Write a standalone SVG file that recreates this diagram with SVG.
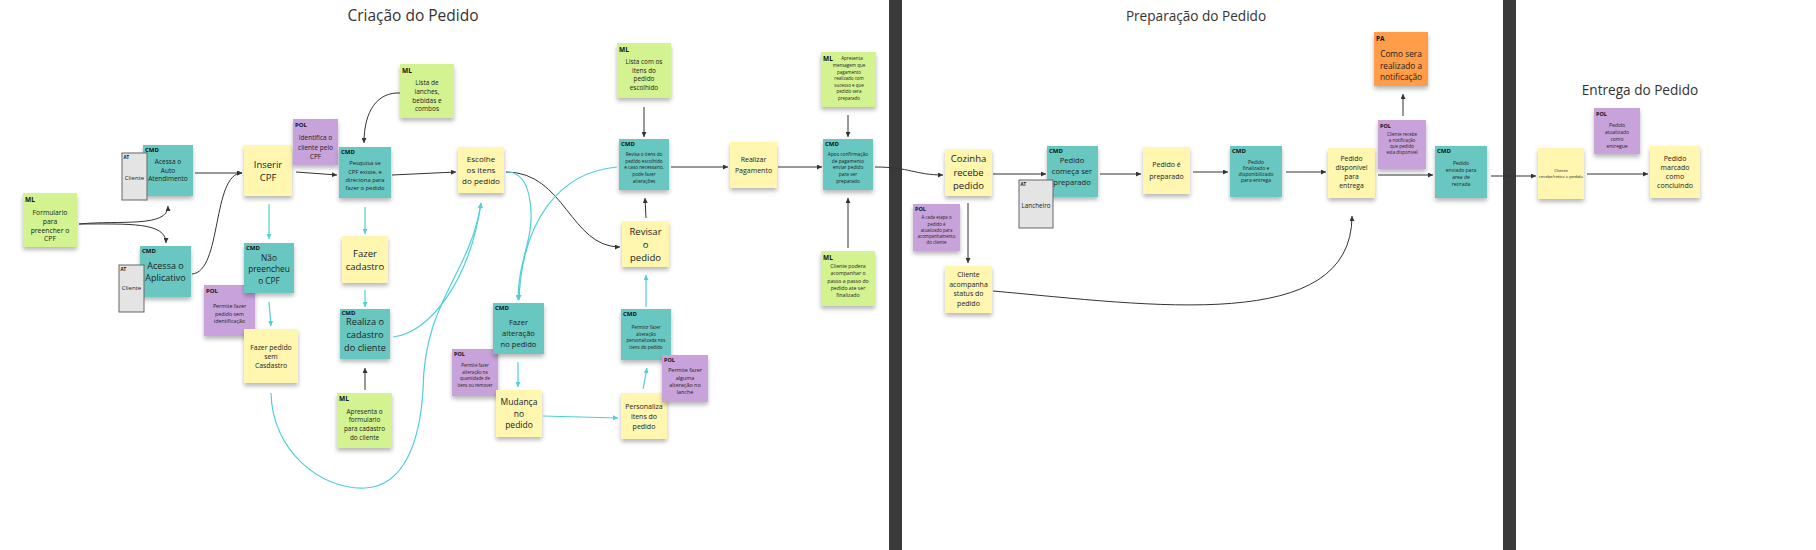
<svg xmlns="http://www.w3.org/2000/svg" width="1816" height="550" viewBox="0 0 1816 550">
<defs>
<filter id="sh" x="-20%" y="-20%" width="140%" height="160%"><feDropShadow dx="0" dy="3" stdDeviation="2" flood-color="#000" flood-opacity="0.28"/></filter>
<marker id="ak" markerUnits="userSpaceOnUse" markerWidth="5" markerHeight="5" refX="5" refY="2.5" orient="auto"><path d="M0,0 L5,2.5 L0,5 z" fill="#333"/></marker>
<marker id="ac" markerUnits="userSpaceOnUse" markerWidth="5" markerHeight="5" refX="5" refY="2.5" orient="auto"><path d="M0,0 L5,2.5 L0,5 z" fill="#4fcfd9"/></marker>
<style>
text{font-family:"Open Sans","Noto Sans","Liberation Sans",sans-serif;fill:#222;text-anchor:middle;dominant-baseline:central}
.lb{font-weight:bold;text-anchor:start;font-size:6px;fill:#111}
.y{fill:#fff6b0;filter:url(#sh)}
.c{fill:#67c7c0;filter:url(#sh)}
.g{fill:#d3f290;filter:url(#sh)}
.p{fill:#c8a2da;filter:url(#sh)}
.o{fill:#ff9d48;filter:url(#sh)}
.a{fill:#e4e4e4;stroke:#666;stroke-width:1}
.k{fill:none;stroke:#333;stroke-width:1;marker-end:url(#ak)}
.q{fill:none;stroke:#4fcfd9;stroke-width:1.2;marker-end:url(#ac)}
.ttl{font-size:15.5px;fill:#333}
.ttl2{font-size:13.6px;fill:#333}
</style>
</defs>
<rect x="0" y="0" width="1816" height="550" fill="#fff"/>
<rect x="889" y="0" width="13" height="550" fill="#3a3a3a"/>
<rect x="1503" y="0" width="13" height="550" fill="#3a3a3a"/>
<text class="ttl" x="413" y="15">Criação do Pedido</text>
<text class="ttl2" x="1196" y="15">Preparação do Pedido</text>
<text class="ttl2" x="1640" y="89">Entrega do Pedido</text>

<g id="n-ml-form"><rect class="g" x="23" y="193" width="54" height="54"/><text class="lb" x="25" y="199" style="font-size:6.5px">ML</text><text style="font-size:6.8px"><tspan x="50" y="212">Formulario</tspan><tspan x="50" y="221">para</tspan><tspan x="50" y="229.5">preencher o</tspan><tspan x="50" y="238">CPF</tspan></text></g>
<g id="n-cmd-auto"><rect class="c" x="143" y="145" width="50" height="51"/><text class="lb" x="145" y="150">CMD</text><text style="font-size:6.5px"><tspan x="168" y="161">Acessa o</tspan><tspan x="168" y="169.5">Auto</tspan><tspan x="168" y="178">Atendimento</tspan></text></g>
<g id="n-at-cli1"><rect class="a" x="122" y="153" width="25" height="47"/><text class="lb" x="123.5" y="157" style="font-size:4.5px">AT</text><text x="134.5" y="178" style="font-size:6px">Cliente</text></g>
<g id="n-cmd-app"><rect class="c" x="140" y="246" width="51" height="51"/><text class="lb" x="142" y="251">CMD</text><text style="font-size:9px"><tspan x="165.5" y="265">Acessa o</tspan><tspan x="165.5" y="277">Aplicativo</tspan></text></g>
<g id="n-at-cli2"><rect class="a" x="119" y="265" width="25" height="47"/><text class="lb" x="120.5" y="269" style="font-size:4.5px">AT</text><text x="131.5" y="288" style="font-size:6px">Cliente</text></g>
<g id="n-pol-semid"><rect class="p" x="204" y="285" width="51" height="51"/><text class="lb" x="206" y="291">POL</text><text style="font-size:5.3px"><tspan x="229.5" y="306">Permite  fazer</tspan><tspan x="229.5" y="313.5">pedido sem</tspan><tspan x="229.5" y="321">identificação</tspan></text></g>
<g id="n-inserir"><rect class="y" x="244" y="145" width="48" height="51"/><text style="font-size:9.5px"><tspan x="268" y="164">Inserir</tspan><tspan x="268" y="177">CPF</tspan></text></g>
<g id="n-pol-ident"><rect class="p" x="293" y="119" width="45" height="46"/><text class="lb" x="295" y="125">POL</text><text style="font-size:6.5px"><tspan x="315.5" y="137">Identifica o</tspan><tspan x="315.5" y="146.5">cliente pelo</tspan><tspan x="315.5" y="156">CPF</tspan></text></g>
<g id="n-cmd-pesq"><rect class="c" x="339" y="147" width="52" height="51"/><text class="lb" x="341" y="152">CMD</text><text style="font-size:5.8px"><tspan x="365" y="163.3">Pesquisa se</tspan><tspan x="365" y="171.5">CPF existe, e</tspan><tspan x="365" y="179.7">direciona para</tspan><tspan x="365" y="187.9">fazer o pedido</tspan></text></g>
<g id="n-ml-lista"><rect class="g" x="400" y="64" width="54" height="54"/><text class="lb" x="402" y="70" style="font-size:6.5px">ML</text><text style="font-size:6.5px"><tspan x="427" y="82.3">Lista de</tspan><tspan x="427" y="91">lanches,</tspan><tspan x="427" y="99.7">bebidas e</tspan><tspan x="427" y="108">combos</tspan></text></g>
<g id="n-escolhe"><rect class="y" x="458" y="147" width="46" height="46"/><text style="font-size:8px"><tspan x="481" y="158.3">Escolhe</tspan><tspan x="481" y="169.2">os itens</tspan><tspan x="481" y="180">do pedido</tspan></text></g>
<g id="n-cmd-nao"><rect class="c" x="244" y="243" width="50" height="50"/><text class="lb" x="246" y="248">CMD</text><text style="font-size:8.3px"><tspan x="269" y="256.7">Não</tspan><tspan x="269" y="268.3">preencheu</tspan><tspan x="269" y="279.5">o CPF</tspan></text></g>
<g id="n-sem-cad"><rect class="y" x="244" y="329" width="54" height="54"/><text style="font-size:6.9px"><tspan x="271" y="346.7">Fazer pedido</tspan><tspan x="271" y="355.8">sem</tspan><tspan x="271" y="365">Casdastro</tspan></text></g>
<g id="n-fazer-cad"><rect class="y" x="342" y="236" width="46" height="47"/><text style="font-size:9.5px"><tspan x="365" y="252.7">Fazer</tspan><tspan x="365" y="266">cadastro</tspan></text></g>
<g id="n-cmd-realiza"><rect class="c" x="340" y="309" width="50" height="50"/><text class="lb" x="341.5" y="313">CMD</text><text style="font-size:9.2px"><tspan x="365" y="321">Realiza o</tspan><tspan x="365" y="334">cadastro</tspan><tspan x="365" y="346.7">do cliente</tspan></text></g>
<g id="n-ml-apres"><rect class="g" x="337" y="393" width="55" height="55"/><text class="lb" x="339" y="398" style="font-size:6.5px">ML</text><text style="font-size:6.4px"><tspan x="364.5" y="410.7">Apresenta o</tspan><tspan x="364.5" y="419.3">formulario</tspan><tspan x="364.5" y="428">para cadastro</tspan><tspan x="364.5" y="436.5">do cliente</tspan></text></g>
<g id="n-pol-qtd"><rect class="p" x="452" y="349" width="46" height="47"/><text class="lb" x="454" y="354" style="font-size:5.5px">POL</text><text style="font-size:4.4px"><tspan x="475" y="365">Permite  fazer</tspan><tspan x="475" y="371.5">alteração na</tspan><tspan x="475" y="378">quantidade de</tspan><tspan x="475" y="384.5">itens ou remover</tspan></text></g>
<g id="n-cmd-alt"><rect class="c" x="493" y="303" width="51" height="51"/><text class="lb" x="495" y="308">CMD</text><text style="font-size:7.6px"><tspan x="518.5" y="322.3">Fazer</tspan><tspan x="518.5" y="333">alteração</tspan><tspan x="518.5" y="343.5">no pedido</tspan></text></g>
<g id="n-mudanca"><rect class="y" x="496" y="390" width="46" height="47"/><text style="font-size:8.5px"><tspan x="519" y="400.7">Mudança</tspan><tspan x="519" y="412.5">no</tspan><tspan x="519" y="424">pedido</tspan></text></g>
<g id="n-personaliza"><rect class="y" x="621" y="393" width="46" height="46"/><text style="font-size:7px"><tspan x="644" y="405.7">Personaliza</tspan><tspan x="644" y="415.7">itens do</tspan><tspan x="644" y="425.7">pedido</tspan></text></g>
<g id="n-cmd-perm"><rect class="c" x="621" y="309" width="50" height="51"/><text class="lb" x="623" y="314">CMD</text><text style="font-size:4.6px"><tspan x="646" y="327.3">Permitir fazer</tspan><tspan x="646" y="333.8">alteração</tspan><tspan x="646" y="340.3">personalizada nos</tspan><tspan x="646" y="346.8">itens do pedido</tspan></text></g>
<g id="n-pol-lanche"><rect class="p" x="662" y="355" width="46" height="47"/><text class="lb" x="664" y="360" style="font-size:5.5px">POL</text><text style="font-size:5.4px"><tspan x="685" y="370">Permite  fazer</tspan><tspan x="685" y="377.5">alguma</tspan><tspan x="685" y="385">alteração no</tspan><tspan x="685" y="392.3">lanche</tspan></text></g>
<g id="n-revisar"><rect class="y" x="622" y="221" width="47" height="46"/><text style="font-size:9.5px"><tspan x="645.5" y="230.7">Revisar</tspan><tspan x="645.5" y="244">o</tspan><tspan x="645.5" y="256.7">pedido</tspan></text></g>
<g id="n-cmd-revisa"><rect class="c" x="619" y="139" width="50" height="51"/><text class="lb" x="621" y="144">CMD</text><text style="font-size:4.7px"><tspan x="644" y="154">Revisa o itens do</tspan><tspan x="644" y="160.7">pedido escolhido</tspan><tspan x="644" y="167.3">e caso necessario,</tspan><tspan x="644" y="174">pode fazer</tspan><tspan x="644" y="180.7">alterações</tspan></text></g>
<g id="n-ml-itens"><rect class="g" x="617" y="43" width="54" height="55"/><text class="lb" x="619" y="49" style="font-size:6.5px">ML</text><text style="font-size:6.4px"><tspan x="644" y="60.7">Lista com os</tspan><tspan x="644" y="69.5">itens do</tspan><tspan x="644" y="78.4">pedido</tspan><tspan x="644" y="87.3">escolhido</tspan></text></g>
<g id="n-pagamento"><rect class="y" x="730" y="142" width="47" height="46"/><text style="font-size:7px"><tspan x="753.5" y="159.3">Realizar</tspan><tspan x="753.5" y="169.5">Pagamento</tspan></text></g>
<g id="n-cmd-apos"><rect class="c" x="823" y="139" width="50" height="51"/><text class="lb" x="825" y="144">CMD</text><text style="font-size:4.8px"><tspan x="848" y="154">Apos confirmação</tspan><tspan x="848" y="160.7">de pagamento</tspan><tspan x="848" y="167.4">enviar pedido</tspan><tspan x="848" y="174.1">para ser</tspan><tspan x="848" y="180.8">preparado</tspan></text></g>
<g id="n-ml-msg"><rect class="g" x="821" y="52" width="55" height="55"/><text class="lb" x="823" y="58" style="font-size:6.5px">ML</text><text style="font-size:4.5px"><tspan x="852" y="58.3">Apresenta</tspan><tspan x="849" y="65">mensagem que</tspan><tspan x="849" y="71.5">pagamento</tspan><tspan x="849" y="78">realizado com</tspan><tspan x="849" y="84.5">sucesso e que</tspan><tspan x="849" y="91">pedido sera</tspan><tspan x="849" y="97.5">preparado</tspan></text></g>
<g id="n-ml-podera"><rect class="g" x="821" y="251" width="54" height="55"/><text class="lb" x="823" y="257" style="font-size:6.5px">ML</text><text style="font-size:5.2px"><tspan x="848" y="266">Cliente podera</tspan><tspan x="848" y="273.3">acompanhar o</tspan><tspan x="848" y="280.6">passo a passo do</tspan><tspan x="848" y="287.9">pedido ate ser</tspan><tspan x="848" y="295.2">finalizado</tspan></text></g>
<g id="n-cozinha"><rect class="y" x="945" y="149" width="47" height="47"/><text style="font-size:9.5px"><tspan x="968.5" y="158.3">Cozinha</tspan><tspan x="968.5" y="171.5">recebe</tspan><tspan x="968.5" y="184.5">pedido</tspan></text></g>
<g id="n-pol-etapa"><rect class="p" x="913" y="204" width="47" height="47"/><text class="lb" x="915" y="209" style="font-size:5.5px">POL</text><text style="font-size:4.4px"><tspan x="936.5" y="217.3">A cada etapa  o</tspan><tspan x="936.5" y="223.5">pedido é</tspan><tspan x="936.5" y="229.7">atualizado para</tspan><tspan x="936.5" y="235.9">acompanhamento</tspan><tspan x="936.5" y="242.1">do cliente</tspan></text></g>
<g id="n-cliente-acomp"><rect class="y" x="945" y="266" width="47" height="47"/><text style="font-size:7px"><tspan x="968.5" y="274">Cliente</tspan><tspan x="968.5" y="283.6">acompanha</tspan><tspan x="968.5" y="293.2">status do</tspan><tspan x="968.5" y="302.8">pedido</tspan></text></g>
<g id="n-cmd-comeca"><rect class="c" x="1047" y="146" width="51" height="51"/><text class="lb" x="1049" y="151">CMD</text><text style="font-size:7.6px"><tspan x="1072" y="160">Pedido</tspan><tspan x="1072" y="171">começa ser</tspan><tspan x="1072" y="181.7">preparado</tspan></text></g>
<g id="n-at-lanch"><rect class="a" x="1019" y="180" width="34" height="48"/><text class="lb" x="1020.5" y="184" style="font-size:4.5px">AT</text><text x="1036" y="205" style="font-size:6.3px">Lancheiro</text></g>
<g id="n-preparado"><rect class="y" x="1143" y="147" width="47" height="47"/><text style="font-size:7px"><tspan x="1166.5" y="164">Pedido é</tspan><tspan x="1166.5" y="176">preparado</tspan></text></g>
<g id="n-cmd-final"><rect class="c" x="1230" y="146" width="52" height="51"/><text class="lb" x="1232" y="151">CMD</text><text style="font-size:5px"><tspan x="1256" y="162">Pedido</tspan><tspan x="1256" y="168">finalizado e</tspan><tspan x="1256" y="174">disponibilizado</tspan><tspan x="1256" y="180">para entrega</tspan></text></g>
<g id="n-disp"><rect class="y" x="1328" y="148" width="47" height="50"/><text style="font-size:6.8px"><tspan x="1351.5" y="158">Pedido</tspan><tspan x="1351.5" y="167">disponivel</tspan><tspan x="1351.5" y="176">para</tspan><tspan x="1351.5" y="185">entrega</tspan></text></g>
<g id="n-pol-notif"><rect class="p" x="1378" y="120" width="48" height="49"/><text class="lb" x="1380" y="126" style="font-size:5.5px">POL</text><text style="font-size:4.5px"><tspan x="1402" y="134">Cliente recebe</tspan><tspan x="1402" y="140">a notificação</tspan><tspan x="1402" y="146">que pedido</tspan><tspan x="1402" y="152">esta disponivel</tspan></text></g>
<g id="n-pa"><rect class="o" x="1374" y="32" width="54" height="54"/><text class="lb" x="1376" y="38" style="font-size:6.5px">PA</text><text style="font-size:8.3px"><tspan x="1401" y="53">Como sera</tspan><tspan x="1401" y="65">realizado a</tspan><tspan x="1401" y="76">notificação</tspan></text></g>
<g id="n-cmd-env"><rect class="c" x="1435" y="146" width="52" height="52"/><text class="lb" x="1437" y="151">CMD</text><text style="font-size:5px"><tspan x="1461" y="163">Pedido</tspan><tspan x="1461" y="170">enviado para</tspan><tspan x="1461" y="177">area de</tspan><tspan x="1461" y="184">retirada</tspan></text></g>
<g id="n-recebe"><rect class="y" x="1538" y="148" width="46" height="51"/><text style="font-size:4.2px"><tspan x="1561" y="170">Cliente</tspan><tspan x="1561" y="176">recebe/retira o pedido</tspan></text></g>
<g id="n-pol-entregue"><rect class="p" x="1594" y="108" width="46" height="46"/><text class="lb" x="1596" y="114" style="font-size:5.5px">POL</text><text style="font-size:5px"><tspan x="1617" y="125">Pedido</tspan><tspan x="1617" y="132">atualizado</tspan><tspan x="1617" y="139">como</tspan><tspan x="1617" y="146">entregue</tspan></text></g>
<g id="n-marcado"><rect class="y" x="1650" y="146" width="50" height="52"/><text style="font-size:7px"><tspan x="1675" y="158">Pedido</tspan><tspan x="1675" y="167">marcado</tspan><tspan x="1675" y="176">como</tspan><tspan x="1675" y="185">concluindo</tspan></text></g>

<g id="connectors">
<path class="k" d="M79,224 C120,220 168,228 168,206"/>
<path class="k" d="M79,224 C130,224 166,222 166,243"/>
<path class="k" d="M195,173 L242,173"/>
<path class="k" d="M192,274 C222,272 212,173 242,173"/>
<path class="k" d="M296,172 L337,175"/>
<path class="k" d="M400,93 C378,92 364,110 364,143"/>
<path class="k" d="M392,175 L456,172"/>
<path class="k" d="M365,390 L365,368"/>
<path class="k" d="M506,172 C565,172 570,247 620,247"/>
<path class="k" d="M646,218 L645,198"/>
<path class="k" d="M644,107 L644,137"/>
<path class="k" d="M671,167 L728,167"/>
<path class="k" d="M778,167 L822,167"/>
<path class="k" d="M848,115 L848,137"/>
<path class="k" d="M848,248 L848,198"/>
<path class="k" d="M875,167 C910,167 915,175 943,175"/>
<path class="k" d="M993,174 L1046,174"/>
<path class="k" d="M968,203 L968,263"/>
<path class="k" d="M993,291 C1150,305 1352,335 1352,216"/>
<path class="k" d="M1100,174 L1141,174"/>
<path class="k" d="M1193,172 L1228,172"/>
<path class="k" d="M1286,172 L1326,172"/>
<path class="k" d="M1378,175 L1433,175"/>
<path class="k" d="M1403,116 L1403,94"/>
<path class="k" d="M1491,176 L1536,176"/>
<path class="k" d="M1587,174 L1648,174"/>
<path class="q" d="M269,204 L269,239"/>
<path class="q" d="M269,302 L271,326"/>
<path class="q" d="M365,207 L365,234"/>
<path class="q" d="M365,290 L365,307"/>
<path class="q" d="M393,337 C430,333 470,280 481,203"/>
<path class="q" d="M271,393 C272,450 320,490 365,488 C405,486 420,440 423,390 C424,300 470,275 481,203"/>
<path class="q" d="M507,172 C532,172 535,215 527,245 C522,265 518,280 518,300"/>
<path class="q" d="M617,167 C560,172 522,220 519,300"/>
<path class="q" d="M518,362 L518,387"/>
<path class="q" d="M543,416 L618,418"/>
<path class="q" d="M643,389 L647,368"/>
<path class="q" d="M646,307 L646,275"/>
</g>
</svg>
